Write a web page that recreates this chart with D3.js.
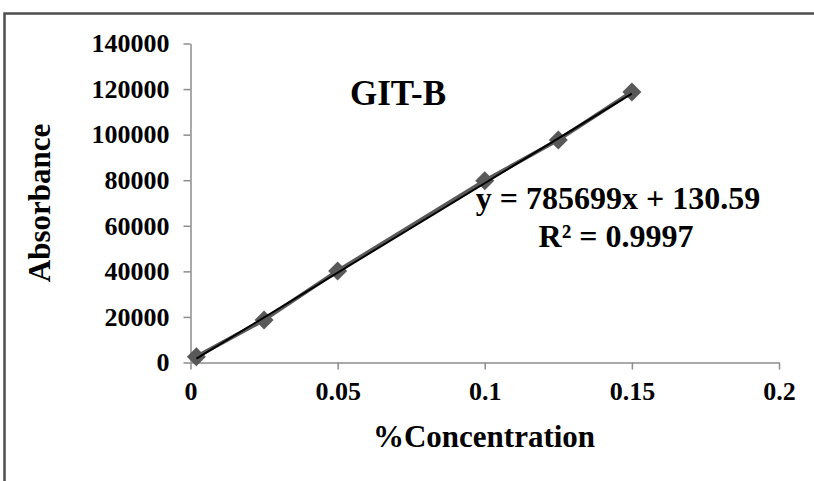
<!DOCTYPE html>
<html>
<head>
<meta charset="utf-8">
<script src="https://cdn.jsdelivr.net/npm/d3@7"></script>
<style>
  body { margin: 0; background: #fff; }
  text { font-family: "Liberation Serif", "Times New Roman", serif; font-weight: bold; fill: #000; }
</style>
</head>
<body>
<div id="chart"></div>
<script>
"use strict";

// data
let concentration = [0.002, 0.025, 0.05, 0.1, 0.125, 0.15],
  absorbance = [2500, 18700, 40200, 79800, 97700, 118700],
  xTicks = [0, 0.05, 0.1, 0.15, 0.2],
  yTicks = [0, 20000, 40000, 60000, 80000, 100000, 120000, 140000],
  slope = 785699,
  intercept = 130.59
;

let width = 814, height = 481;

let svg = d3.select("#chart").append("svg")
  .attr("width", width)
  .attr("height", height);

// outer frame: top and left edge only
svg.append("path")
  .attr("d", "M4.5,481 L4.5,13.5 L814,13.5")
  .attr("fill", "none")
  .attr("stroke", "#4d4d4d")
  .attr("stroke-width", 2.5);

let x = d3.scaleLinear().domain([0, 0.2]).range([190.5, 779]),
  y = d3.scaleLinear().domain([0, 140000]).range([362.5, 43.5])
;

let axisColor = "#8c8c8c";

// y axis
let gy = svg.append("g")
  .attr("transform", "translate(" + x(0) + ",0)")
  .call(d3.axisLeft(y).tickValues(yTicks).tickSize(7).tickPadding(14).tickSizeOuter(0).tickFormat(d3.format("d")));
gy.selectAll("path, line").attr("stroke", axisColor).attr("stroke-width", 1.5);
gy.selectAll("text").attr("font-size", 26).attr("font-family", null).attr("fill", null);

// x axis
let gx = svg.append("g")
  .attr("transform", "translate(0," + y(0) + ")")
  .call(d3.axisBottom(x).tickValues(xTicks).tickSize(7).tickPadding(12).tickSizeOuter(0).tickFormat(d => d3.format("")(d)));
gx.selectAll("path, line").attr("stroke", axisColor).attr("stroke-width", 1.5);
gx.selectAll("text").attr("font-size", 26).attr("font-family", null).attr("fill", null);

let points = concentration.map((c, i) => ({x: c, y: absorbance[i]}));

// series line
svg.append("path")
  .datum(points)
  .attr("fill", "none")
  .attr("stroke", "#595959")
  .attr("stroke-width", 4)
  .attr("d", d3.line().x(d => x(d.x)).y(d => y(d.y)));

// diamond markers
svg.selectAll(".marker")
  .data(points)
  .enter().append("path")
    .attr("class", "marker")
    .attr("transform", d => "translate(" + x(d.x) + "," + y(d.y) + ")")
    .attr("d", "M0,-9.5 L9.5,0 L0,9.5 L-9.5,0 Z")
    .attr("fill", "#595959");

// linear trendline on top
let trend = d3.extent(concentration).map(c => ({x: c, y: slope * c + intercept}));
svg.append("path")
  .datum(trend)
  .attr("fill", "none")
  .attr("stroke", "#000")
  .attr("stroke-width", 2)
  .attr("d", d3.line().x(d => x(d.x)).y(d => y(d.y)));

// titles
svg.append("text")
  .attr("x", 398).attr("y", 105)
  .attr("text-anchor", "middle")
  .attr("font-size", 35)
  .text("GIT-B");

svg.append("text")
  .attr("x", 618).attr("y", 209)
  .attr("text-anchor", "middle")
  .attr("font-size", 32)
  .text("y = 785699x + 130.59");

svg.append("text")
  .attr("x", 616).attr("y", 247)
  .attr("text-anchor", "middle")
  .attr("font-size", 32)
  .text("R² = 0.9997");

svg.append("text")
  .attr("x", 484).attr("y", 447)
  .attr("text-anchor", "middle")
  .attr("font-size", 31)
  .text("%Concentration");

svg.append("text")
  .attr("transform", "translate(50,203) rotate(-90)")
  .attr("text-anchor", "middle")
  .attr("font-size", 31)
  .text("Absorbance");
</script>
</body>
</html>
